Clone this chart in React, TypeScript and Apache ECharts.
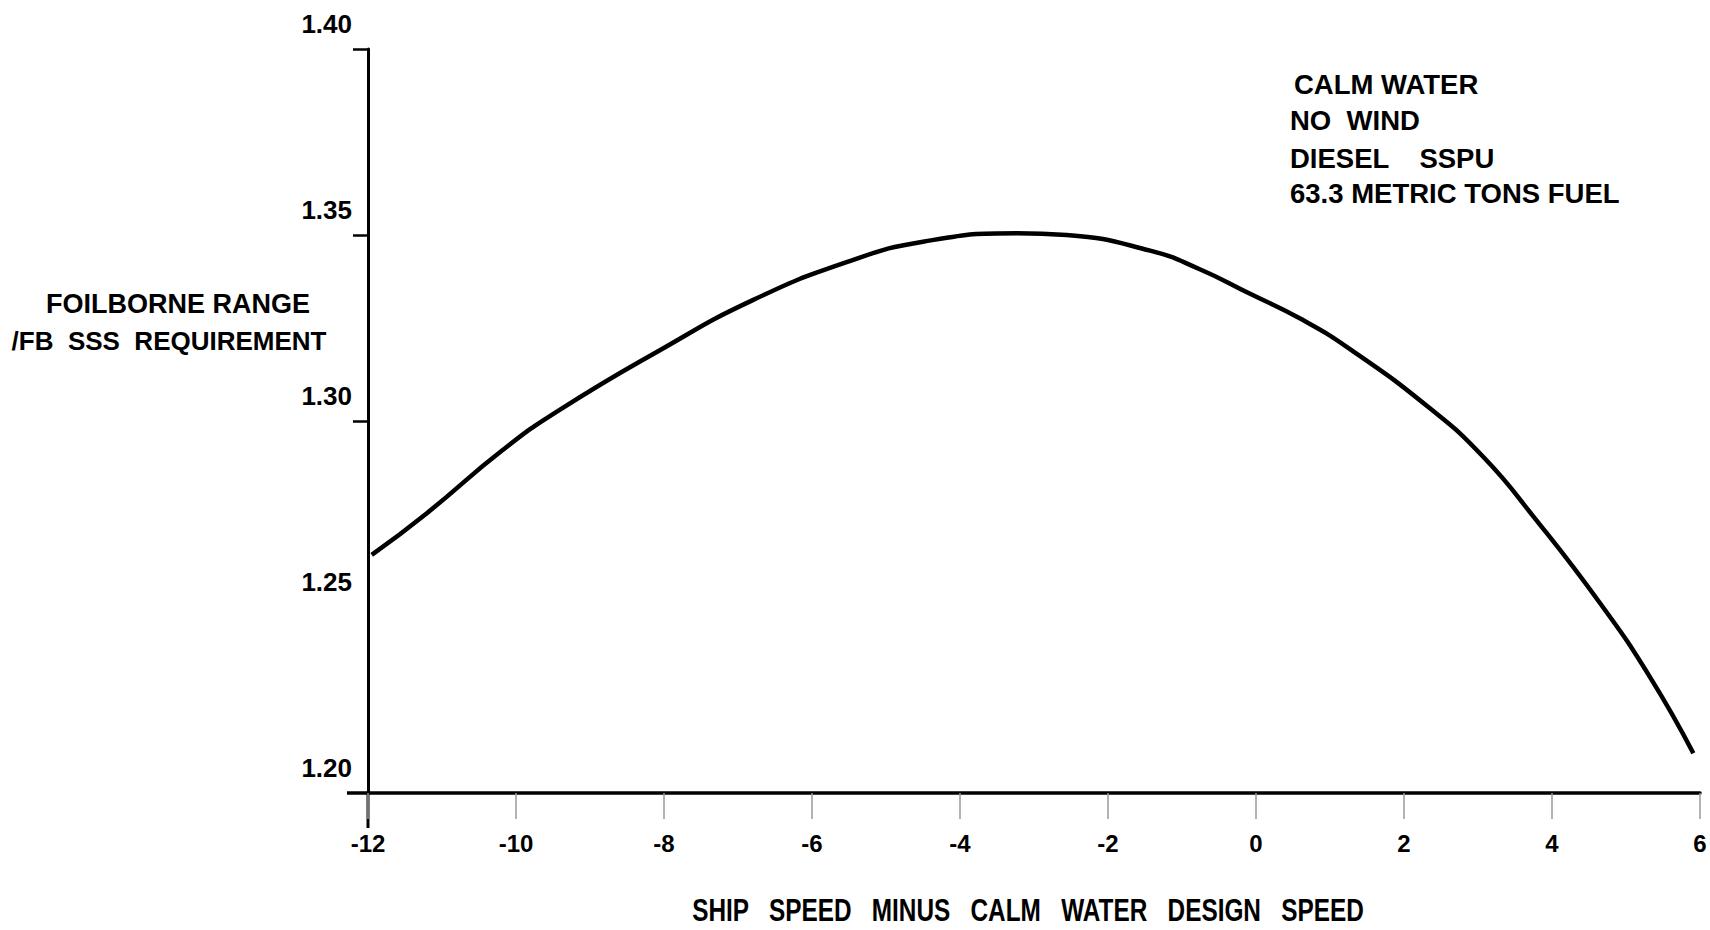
import React, { useEffect, useRef } from "react";
import * as echarts from "echarts";

// Ship speed minus calm water design speed (knots)
const speedDiff: number[] = [
  -11.95, -11.2, -10.18, -9.41, -8.05, -6.8, -5.49, -4.5, -3.23, -2.56, -1.43,
  -0.76, -0.08, 0.59, 1.27, 2.35, 3.07, 3.75, 4.65, 5.32, 5.91,
];
// Foilborne range / FB SSS requirement
const rangeRatio: number[] = [
  1.264, 1.2753, 1.2922, 1.303, 1.3191, 1.3325, 1.343, 1.3482, 1.3505, 1.35,
  1.3458, 1.3408, 1.3342, 1.3276, 1.3193, 1.3034, 1.2904, 1.2743, 1.251,
  1.2313, 1.2107,
];

const yTickMarks: number[] = [1.3, 1.35, 1.4];
const notes: string[] = [
  "CALM WATER",
  "NO  WIND",
  "DIESEL    SSPU",
  "63.3 METRIC TONS FUEL",
];
const yTitle: string[] = ["FOILBORNE RANGE", "/FB  SSS  REQUIREMENT"];
const xTitle = "SHIP   SPEED   MINUS   CALM   WATER   DESIGN   SPEED";

const SANS = '"Liberation Sans", Arial, Helvetica, sans-serif';

export default function App() {
  const ref = useRef<HTMLDivElement>(null);

  useEffect(() => {
    document.body.style.margin = "0";
    if (!ref.current) return;
    const chart = echarts.init(ref.current, undefined, { renderer: "svg" });
    const data = speedDiff.map((x, i) => [x, rangeRatio[i]]);
    chart.setOption({
      animation: false,
      backgroundColor: "#ffffff",
      grid: { left: 368, right: 10, top: 49, bottom: 137, containLabel: false },
      xAxis: {
        type: "value",
        min: -12,
        max: 6,
        interval: 2,
        axisLine: { show: true, onZero: false, lineStyle: { color: "#000", width: 3.5 } },
        axisTick: { show: true, length: 26, lineStyle: { color: "#999", width: 1.5 } },
        splitLine: { show: false },
        axisLabel: {
          color: "#000",
          fontFamily: SANS,
          fontWeight: "bold",
          fontSize: 24,
          margin: 38,
          formatter: (v: number) => String(v),
        },
      },
      yAxis: {
        type: "value",
        min: 1.2,
        max: 1.4,
        interval: 0.05,
        axisLine: { show: true, onZero: false, lineStyle: { color: "#000", width: 3 } },
        axisTick: {
          show: true,
          length: 15,
          customValues: yTickMarks,
          lineStyle: { color: "#000", width: 2.5 },
        },
        splitLine: { show: false },
        axisLabel: {
          color: "#000",
          fontFamily: SANS,
          fontWeight: "bold",
          fontSize: 26,
          margin: 16,
          verticalAlign: "bottom",
          padding: [0, 0, 12, 0],
          formatter: (v: number) => v.toFixed(2),
        },
      },
      series: [
        {
          type: "line",
          data,
          smooth: 0.5,
          showSymbol: false,
          lineStyle: { color: "#000", width: 4.5 },
        },
      ],
      graphic: [
        { type: "line", shape: { x1: 347, y1: 793, x2: 368, y2: 793 }, style: { stroke: "#000", lineWidth: 3.5 } },
        { type: "line", shape: { x1: 368, y1: 793, x2: 368, y2: 828 }, style: { stroke: "#000", lineWidth: 3 } },
        {
          type: "text",
          x: 1028,
          y: 911,
          scaleX: 0.84,
          scaleY: 1.05,
          style: {
            text: xTitle,
            fill: "#000",
            fontFamily: SANS,
            fontWeight: "bold",
            fontSize: 29,
            textAlign: "center",
            textVerticalAlign: "middle",
          },
        },
        {
          type: "text",
          x: 178,
          y: 304,
          style: {
            text: yTitle[0],
            fill: "#000",
            fontFamily: SANS,
            fontWeight: "bold",
            fontSize: 27,
            textAlign: "center",
            textVerticalAlign: "middle",
          },
        },
        {
          type: "text",
          x: 169,
          y: 341,
          style: {
            text: yTitle[1],
            fill: "#000",
            fontFamily: SANS,
            fontWeight: "bold",
            fontSize: 26,
            textAlign: "center",
            textVerticalAlign: "middle",
          },
        },
        ...notes.map((t, i) => ({
          type: "text",
          x: i === 0 ? 1294 : 1290,
          y: [84, 120, 158, 193][i],
          style: {
            text: t,
            fill: "#000",
            fontFamily: SANS,
            fontWeight: "bold",
            fontSize: 27.5,
            textAlign: "left",
            textVerticalAlign: "middle",
          },
        })),
      ],
    });
    return () => chart.dispose();
  }, []);

  return <div ref={ref} style={{ width: 1710, height: 930 }} />;
}
